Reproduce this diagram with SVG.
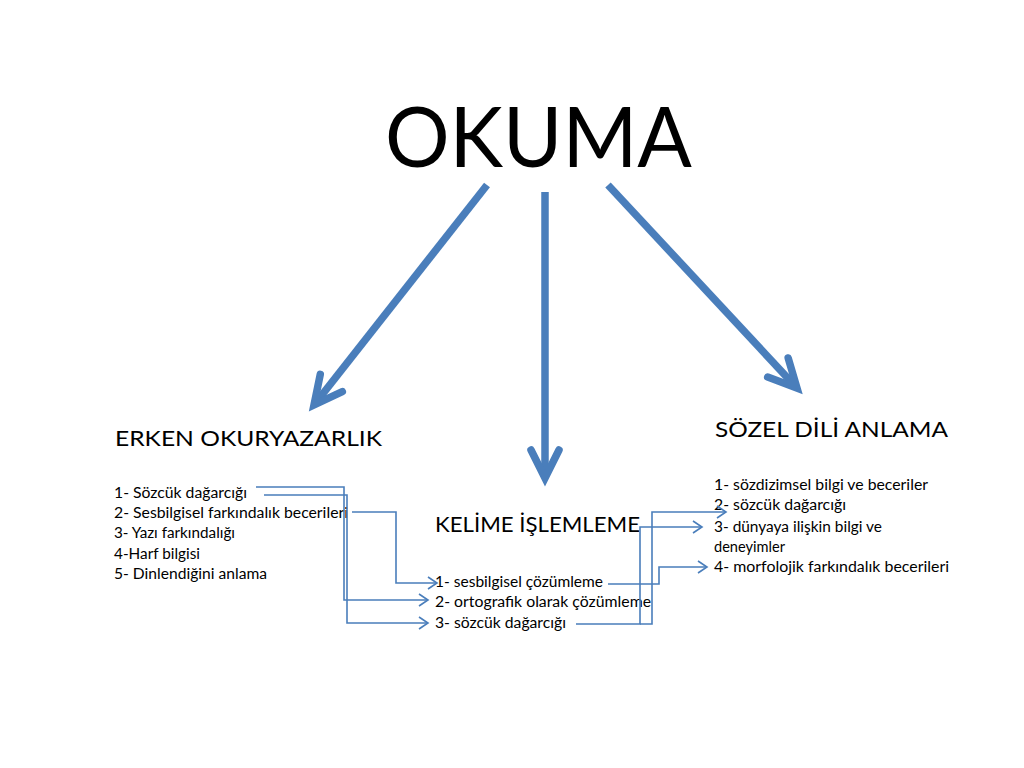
<svg xmlns="http://www.w3.org/2000/svg" width="1024" height="768" viewBox="0 0 1024 768">
  <style>
    text { font-family: "Lato", "Open Sans", "Liberation Sans", sans-serif; fill: #000; }
    .title { font-size: 83px; }
    .head { font-size: 22px; }
    .item { font-size: 14.5px; }
    .thick { stroke: #4a7ebb; stroke-width: 7.5; fill: none; }
    .thin { stroke: #4a7ebb; stroke-width: 1.6; fill: none; }
  </style>
  <defs>
    <marker id="bigHead" markerUnits="userSpaceOnUse" markerWidth="80" markerHeight="80" refX="0" refY="0" orient="auto" overflow="visible">
      <path d="M-28,-14 L0,0 L-28,14" fill="none" stroke="#4a7ebb" stroke-width="7.5" stroke-linecap="round" stroke-linejoin="miter"/>
    </marker>
    <marker id="smallHead" markerUnits="userSpaceOnUse" markerWidth="20" markerHeight="20" refX="0" refY="0" orient="auto" overflow="visible">
      <path d="M-9,-6 L0,0 L-9,6" fill="none" stroke="#4a7ebb" stroke-width="1.6"/>
    </marker>
  </defs>
  <rect width="1024" height="768" fill="#ffffff"/>

  <g id="okuma">
    <text class="title" x="385" y="167" textLength="307" lengthAdjust="spacingAndGlyphs">OKUMA</text>
  </g>

  <g id="erken">
    <text class="head" x="115" y="446" textLength="267" lengthAdjust="spacingAndGlyphs">ERKEN OKURYAZARLIK</text>
    <text class="item" x="114" y="498" textLength="133" lengthAdjust="spacingAndGlyphs">1- Sözcük dağarcığı</text>
    <text class="item" x="114" y="518" textLength="234" lengthAdjust="spacingAndGlyphs">2- Sesbilgisel farkındalık becerileri</text>
    <text class="item" x="114" y="538" textLength="121" lengthAdjust="spacingAndGlyphs">3- Yazı farkındalığı</text>
    <text class="item" x="114" y="559" textLength="86" lengthAdjust="spacingAndGlyphs">4-Harf bilgisi</text>
    <text class="item" x="114" y="579" textLength="153" lengthAdjust="spacingAndGlyphs">5- Dinlendiğini anlama</text>
  </g>

  <g id="kelime">
    <text class="head" x="435" y="532" textLength="205" lengthAdjust="spacingAndGlyphs">KELİME İŞLEMLEME</text>
    <text class="item" x="435" y="587" textLength="168" lengthAdjust="spacingAndGlyphs">1- sesbilgisel çözümleme</text>
    <text class="item" x="435" y="607" textLength="216" lengthAdjust="spacingAndGlyphs">2- ortografik olarak çözümleme</text>
    <text class="item" x="435" y="628" textLength="131" lengthAdjust="spacingAndGlyphs">3- sözcük dağarcığı</text>
  </g>

  <g id="sozel">
    <text class="head" x="715" y="437" textLength="233" lengthAdjust="spacingAndGlyphs">SÖZEL DİLİ ANLAMA</text>
    <text class="item" x="714" y="490" textLength="214" lengthAdjust="spacingAndGlyphs">1- sözdizimsel bilgi ve beceriler</text>
    <text class="item" x="714" y="510" textLength="132" lengthAdjust="spacingAndGlyphs">2- sözcük dağarcığı</text>
    <text class="item" x="714" y="532" textLength="168" lengthAdjust="spacingAndGlyphs">3- dünyaya ilişkin bilgi ve</text>
    <text class="item" x="714" y="552" textLength="71" lengthAdjust="spacingAndGlyphs">deneyimler</text>
    <text class="item" x="714" y="572" textLength="235" lengthAdjust="spacingAndGlyphs">4- morfolojik farkındalık becerileri</text>
  </g>

  <g id="connectors">
    <line class="thick" x1="487" y1="185" x2="314" y2="405" marker-end="url(#bigHead)"/>
    <line class="thick" x1="545" y1="192" x2="545" y2="478" marker-end="url(#bigHead)"/>
    <line class="thick" x1="608" y1="185" x2="797" y2="388" marker-end="url(#bigHead)"/>

    <path class="thin" d="M256,487 H344 V600 H428" marker-end="url(#smallHead)"/>
    <path class="thin" d="M264,495 H347 V623 H428" marker-end="url(#smallHead)"/>
    <path class="thin" d="M352,512 H396 V583 H437" marker-end="url(#smallHead)"/>
    <path class="thin" d="M608,584 H659 V567 H707" marker-end="url(#smallHead)"/>
    <path class="thin" d="M576,624 H640 V527 H702" marker-end="url(#smallHead)"/>
    <path class="thin" d="M640,624 H652 V512 H726" marker-end="url(#smallHead)"/>
  </g>
</svg>
